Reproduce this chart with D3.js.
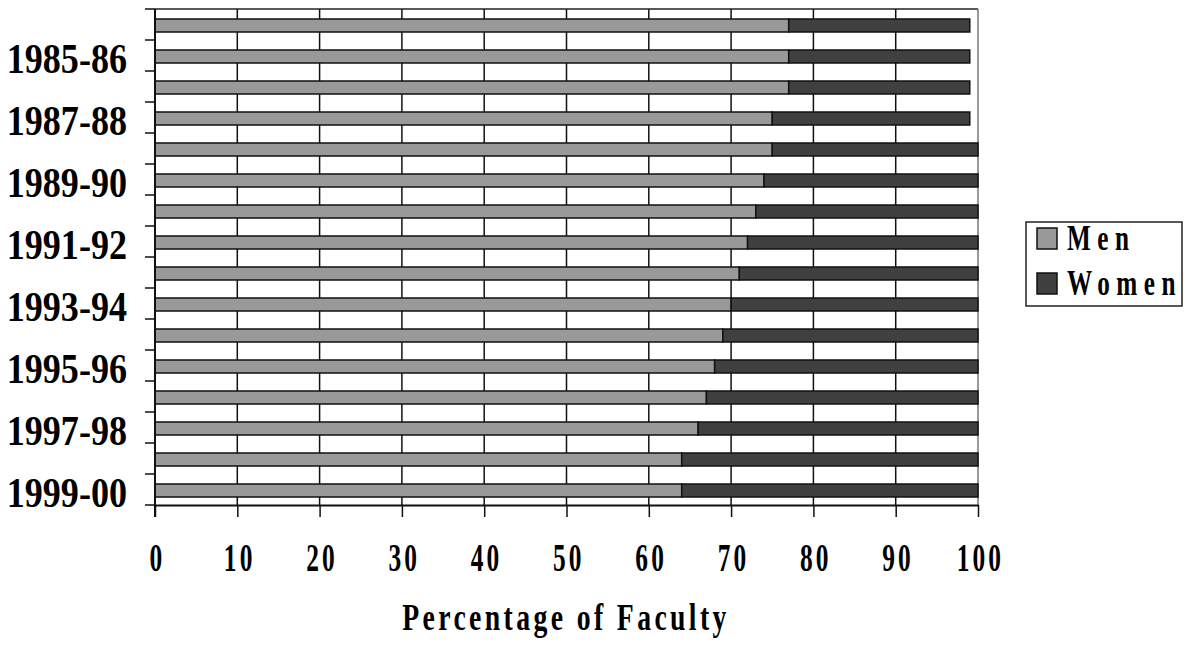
<!DOCTYPE html>
<html>
<head>
<meta charset="utf-8">
<script src="https://cdn.jsdelivr.net/npm/d3@7"></script>
<style>
  html, body { margin: 0; padding: 0; background: #fff; }
  svg { display: block; font-family: "Liberation Serif", "Times New Roman", serif; font-weight: bold; }
</style>
</head>
<body>
<svg id="viz" width="1191" height="647"></svg>
<script>
(() => {
  // academic years, top to bottom
  const years = ['1984-85', '1985-86', '1986-87', '1987-88', '1988-89', '1989-90', '1990-91', '1991-92',
    '1992-93', '1993-94', '1994-95', '1995-96', '1996-97', '1997-98', '1998-99', '1999-00'];
  const yearLabels = ['1985-86', '1987-88', '1989-90', '1991-92', '1993-94', '1995-96', '1997-98', '1999-00'];
  const men = [77, 77, 77, 75, 75, 74, 73, 72, 71, 70, 69, 68, 67, 66, 64, 64];
  const women = [22, 22, 22, 24, 25, 26, 27, 28, 29, 30, 31, 32, 33, 34, 36, 36];
  const xTicks = [0, 10, 20, 30, 40, 50, 60, 70, 80, 90, 100];
  const seriesNames = ['Men', 'Women'];
  const seriesColors = ['#999999', '#404040'];

  const svg = d3.select('#viz');

  const left = 155, right = 978, top = 9, bottom = 505;

  const x = d3.scaleLinear().domain([0, 100]).range([left, right]);
  const y = d3.scaleBand().domain(years).range([top, bottom]);

  const rows = years.map((yr, i) => ({ year: yr, men: men[i], women: women[i] }));
  const stacked = d3.stack().keys(['men', 'women'])(rows);

  // vertical grid lines
  svg.append('g')
    .selectAll('line')
    .data(xTicks.slice(1, -1))
    .join('line')
    .attr('x1', (d) => x(d)).attr('x2', (d) => x(d))
    .attr('y1', top).attr('y2', bottom)
    .attr('stroke', '#111').attr('stroke-width', 1.5);

  // frame: top and right edges
  svg.append('line')
    .attr('x1', left).attr('x2', right).attr('y1', top).attr('y2', top)
    .attr('stroke', '#222').attr('stroke-width', 1.5);
  svg.append('line')
    .attr('x1', right).attr('x2', right).attr('y1', top).attr('y2', bottom)
    .attr('stroke', '#777').attr('stroke-width', 1.5);

  // bars
  const barH = 13;
  const barOff = 10;
  svg.append('g')
    .selectAll('g')
    .data(stacked)
    .join('g')
    .attr('fill', (d, i) => seriesColors[i])
    .selectAll('rect')
    .data((d) => d)
    .join('rect')
    .attr('x', (d) => x(d[0]))
    .attr('width', (d) => x(d[1]) - x(d[0]))
    .attr('y', (d) => y(d.data.year) + barOff)
    .attr('height', barH)
    .attr('stroke', '#111')
    .attr('stroke-width', 1.5);

  // bottom axis
  const xAxis = svg.append('g')
    .attr('transform', `translate(0,${bottom})`)
    .call(d3.axisBottom(x).tickValues(xTicks).tickSizeInner(12).tickSizeOuter(0).tickPadding(34));
  xAxis.select('.domain').attr('stroke', '#111').attr('stroke-width', 2);
  xAxis.selectAll('.tick line').attr('stroke', '#111').attr('stroke-width', 1.5);
  xAxis.selectAll('.tick text')
    .attr('font-family', '"Liberation Serif", serif')
    .attr('font-weight', 'bold')
    .attr('font-size', 41)
    .attr('fill', '#000')
    .attr('letter-spacing', 5)
    .attr('transform', 'scale(0.62,1)')
    .attr('x', 3)
    .attr('dy', '0.5em');

  // left axis: line with ticks at band edges
  svg.append('line')
    .attr('x1', left).attr('x2', left).attr('y1', top).attr('y2', bottom + 12)
    .attr('stroke', '#111').attr('stroke-width', 2);
  const edges = years.map((yr) => y(yr)).concat([bottom]);
  svg.append('g')
    .selectAll('line')
    .data(edges)
    .join('line')
    .attr('x1', left - 10).attr('x2', left)
    .attr('y1', (d) => d).attr('y2', (d) => d)
    .attr('stroke', '#111').attr('stroke-width', 1.5);

  svg.append('g')
    .selectAll('text')
    .data(yearLabels)
    .join('text')
    .attr('transform', (d) => `translate(127,${y(d) + y.bandwidth() / 2 + 2}) scale(0.84,1)`)
    .attr('text-anchor', 'end')
    .attr('dy', '0.35em')
    .attr('font-size', 43)
    .text((d) => d);

  // axis title
  svg.append('text')
    .attr('transform', 'translate(566,630) scale(0.75,1)')
    .attr('text-anchor', 'middle')
    .attr('font-size', 37)
    .attr('letter-spacing', 4.5)
    .text('Percentage of Faculty');

  // legend
  const lg = svg.append('g');
  lg.append('rect')
    .attr('x', 1026).attr('y', 222).attr('width', 156).attr('height', 84)
    .attr('fill', '#fff').attr('stroke', '#222').attr('stroke-width', 1.5);
  const items = lg.selectAll('g.item')
    .data(seriesNames)
    .join('g')
    .attr('class', 'item')
    .attr('transform', (d, i) => `translate(1037,${228 + i * 45})`);
  items.append('rect')
    .attr('width', 20).attr('height', 21)
    .attr('fill', (d, i) => seriesColors[i])
    .attr('stroke', '#111').attr('stroke-width', 1.5);
  items.append('text')
    .attr('transform', 'translate(30,22) scale(0.72,1)')
    .attr('font-size', 35)
    .attr('letter-spacing', 9)
    .text((d) => d);
})();
</script>
</body>
</html>
